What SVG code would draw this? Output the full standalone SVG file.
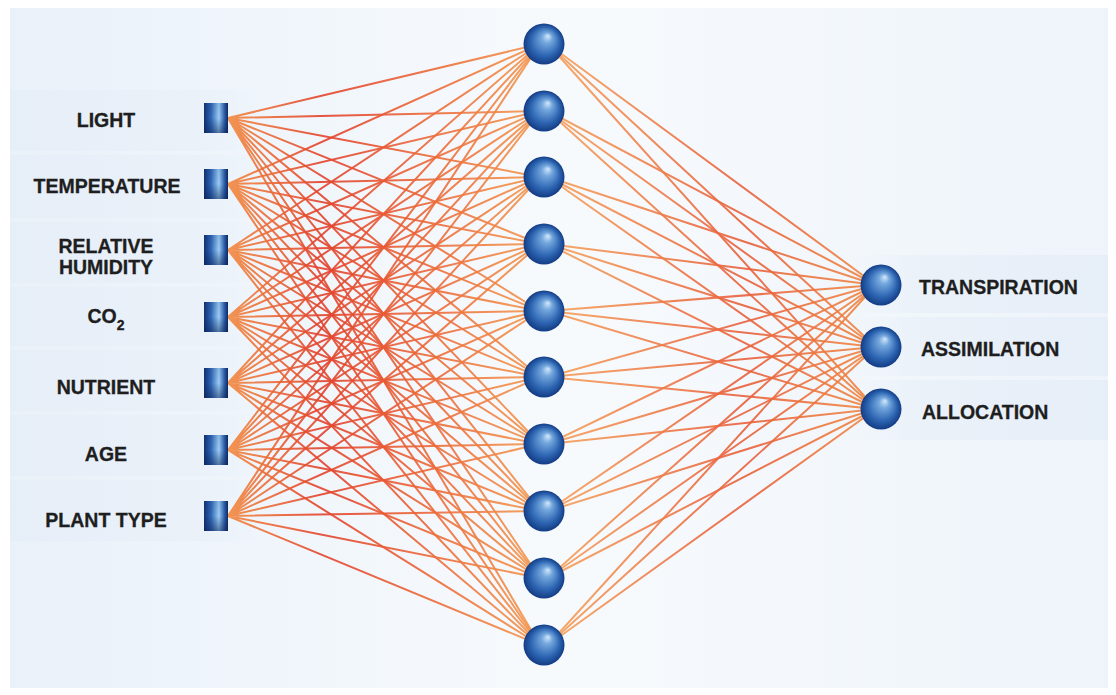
<svg xmlns="http://www.w3.org/2000/svg" width="1116" height="695" viewBox="0 0 1116 695">
<defs>
<linearGradient id="bg" x1="0" y1="0" x2="1" y2="0">
<stop offset="0" stop-color="#e9f1f9"/><stop offset="0.5" stop-color="#f7fafd"/><stop offset="1" stop-color="#eef4fa"/>
</linearGradient>
<linearGradient id="bandL" x1="0" y1="0" x2="1" y2="0">
<stop offset="0" stop-color="#e6eef8"/><stop offset="0.75" stop-color="#eaf1f9"/><stop offset="1" stop-color="#eaf1f9" stop-opacity="0"/>
</linearGradient>
<linearGradient id="bandR" x1="0" y1="0" x2="1" y2="0">
<stop offset="0" stop-color="#eef4fa" stop-opacity="0"/><stop offset="0.3" stop-color="#eaf1f9"/><stop offset="1" stop-color="#e6eef8"/>
</linearGradient>
<linearGradient id="lin1" x1="0" y1="0" x2="1" y2="0">
<stop offset="0" stop-color="#f28a40"/><stop offset="0.3" stop-color="#e3432d"/><stop offset="0.65" stop-color="#ec6a3a"/><stop offset="1" stop-color="#f49a50"/>
</linearGradient>
<linearGradient id="lin2" x1="0" y1="0" x2="1" y2="0">
<stop offset="0" stop-color="#f5a45e"/><stop offset="0.6" stop-color="#e9603c"/><stop offset="1" stop-color="#f08a44"/>
</linearGradient>
<linearGradient id="sq" x1="0" y1="0" x2="1" y2="0">
<stop offset="0" stop-color="#113172"/><stop offset="0.3" stop-color="#3068b8"/><stop offset="0.62" stop-color="#9ccdf4"/><stop offset="0.85" stop-color="#2e60ae"/><stop offset="1" stop-color="#0d285e"/>
</linearGradient>
<linearGradient id="sqshade" x1="0" y1="0" x2="0" y2="1">
<stop offset="0" stop-color="#0a1f50" stop-opacity="0.1"/><stop offset="0.5" stop-color="#0a1f50" stop-opacity="0"/><stop offset="1" stop-color="#0a1f50" stop-opacity="0.5"/>
</linearGradient>
<radialGradient id="sph" cx="0.5" cy="0.5" r="0.5" fx="0.6" fy="0.3">
<stop offset="0" stop-color="#d4e9fb"/><stop offset="0.25" stop-color="#75a8de"/><stop offset="0.7" stop-color="#2d65b2"/><stop offset="1" stop-color="#133c84"/>
</radialGradient>
<style>
.t{font-family:"Liberation Sans",Arial,sans-serif;font-weight:bold;font-size:19.5px;fill:#1e1e1e;stroke:#1e1e1e;stroke-width:0.3}
.tc{text-anchor:middle}
.c1{stroke:url(#lin1);stroke-width:2;fill:none;stroke-opacity:0.9}
.c2{stroke:url(#lin2);stroke-width:2;fill:none;stroke-opacity:0.9}
.sq{fill:url(#sq)}
.sqs{fill:url(#sqshade)}
.sp{fill:url(#sph)}
.band{fill:url(#bandL)}
.bandr{fill:url(#bandR)}
</style>
</defs>
<rect width="1116" height="695" fill="#ffffff"/>
<rect x="10" y="8" width="1098" height="680" fill="url(#bg)"/>
<g id="background-bands">
<rect class="band" x="10" y="90" width="250" height="61"/>
<rect class="band" x="10" y="155" width="250" height="63"/>
<rect class="band" x="10" y="222" width="250" height="61"/>
<rect class="band" x="10" y="287" width="250" height="59"/>
<rect class="band" x="10" y="350" width="250" height="61"/>
<rect class="band" x="10" y="415" width="250" height="61"/>
<rect class="band" x="10" y="480" width="250" height="61"/>
<rect class="bandr" x="840" y="255" width="268" height="58"/>
<rect class="bandr" x="840" y="317" width="268" height="59"/>
<rect class="bandr" x="840" y="380" width="268" height="60"/>
</g>
<g id="connectors">
<path class="c1" d="M228 118L540 44M228 118L540 111M228 118L540 177M228 118L540 244M228 118L540 311M228 118L540 377M228 118L540 444M228 118L540 511M228 118L540 578M228 118L540 645"/>
<path class="c1" d="M228 184L540 44M228 184L540 111M228 184L540 177M228 184L540 244M228 184L540 311M228 184L540 377M228 184L540 444M228 184L540 511M228 184L540 578M228 184L540 645"/>
<path class="c1" d="M228 250L540 44M228 250L540 111M228 250L540 177M228 250L540 244M228 250L540 311M228 250L540 377M228 250L540 444M228 250L540 511M228 250L540 578M228 250L540 645"/>
<path class="c1" d="M228 317L540 44M228 317L540 111M228 317L540 177M228 317L540 244M228 317L540 311M228 317L540 377M228 317L540 444M228 317L540 511M228 317L540 578M228 317L540 645"/>
<path class="c1" d="M228 383L540 44M228 383L540 111M228 383L540 177M228 383L540 244M228 383L540 311M228 383L540 377M228 383L540 444M228 383L540 511M228 383L540 578M228 383L540 645"/>
<path class="c1" d="M228 450L540 44M228 450L540 111M228 450L540 177M228 450L540 244M228 450L540 311M228 450L540 377M228 450L540 444M228 450L540 511M228 450L540 578M228 450L540 645"/>
<path class="c1" d="M228 516L540 44M228 516L540 111M228 516L540 177M228 516L540 244M228 516L540 311M228 516L540 377M228 516L540 444M228 516L540 511M228 516L540 578M228 516L540 645"/>
<path class="c2" d="M548 44L876 285M548 111L876 285M548 177L876 285M548 244L876 285M548 311L876 285M548 377L876 285M548 444L876 285M548 511L876 285M548 578L876 285M548 645L876 285"/>
<path class="c2" d="M548 44L876 347M548 111L876 347M548 177L876 347M548 244L876 347M548 311L876 347M548 377L876 347M548 444L876 347M548 511L876 347M548 578L876 347M548 645L876 347"/>
<path class="c2" d="M548 44L876 409M548 111L876 409M548 177L876 409M548 244L876 409M548 311L876 409M548 377L876 409M548 444L876 409M548 511L876 409M548 578L876 409M548 645L876 409"/>
</g>
<g id="in-light"><text class="t tc" x="106" y="127">LIGHT</text><rect class="sq" x="204" y="103" width="24" height="30"/><rect class="sqs" x="204" y="103" width="24" height="30"/></g>
<g id="in-temperature"><text class="t tc" x="107" y="193">TEMPERATURE</text><rect class="sq" x="204" y="169" width="24" height="30"/><rect class="sqs" x="204" y="169" width="24" height="30"/></g>
<g id="in-humidity"><text class="t tc" x="106" y="253" font-size="18">RELATIVE</text><text class="t tc" x="106" y="274" font-size="18">HUMIDITY</text><rect class="sq" x="204" y="235" width="24" height="30"/><rect class="sqs" x="204" y="235" width="24" height="30"/></g>
<g id="in-co2"><text class="t tc" x="106" y="323">CO<tspan dy="7" font-size="14">2</tspan></text><rect class="sq" x="204" y="302" width="24" height="30"/><rect class="sqs" x="204" y="302" width="24" height="30"/></g>
<g id="in-nutrient"><text class="t tc" x="106" y="394">NUTRIENT</text><rect class="sq" x="204" y="368" width="24" height="30"/><rect class="sqs" x="204" y="368" width="24" height="30"/></g>
<g id="in-age"><text class="t tc" x="106" y="461">AGE</text><rect class="sq" x="204" y="435" width="24" height="30"/><rect class="sqs" x="204" y="435" width="24" height="30"/></g>
<g id="in-planttype"><text class="t tc" x="106" y="527">PLANT TYPE</text><rect class="sq" x="204" y="501" width="24" height="30"/><rect class="sqs" x="204" y="501" width="24" height="30"/></g>
<g id="h1"><circle class="sp" cx="544" cy="44" r="20.5"/></g>
<g id="h2"><circle class="sp" cx="544" cy="111" r="20.5"/></g>
<g id="h3"><circle class="sp" cx="544" cy="177" r="20.5"/></g>
<g id="h4"><circle class="sp" cx="544" cy="244" r="20.5"/></g>
<g id="h5"><circle class="sp" cx="544" cy="311" r="20.5"/></g>
<g id="h6"><circle class="sp" cx="544" cy="377" r="20.5"/></g>
<g id="h7"><circle class="sp" cx="544" cy="444" r="20.5"/></g>
<g id="h8"><circle class="sp" cx="544" cy="511" r="20.5"/></g>
<g id="h9"><circle class="sp" cx="544" cy="578" r="20.5"/></g>
<g id="h10"><circle class="sp" cx="544" cy="645" r="20.5"/></g>
<g id="out-transpiration"><circle class="sp" cx="881" cy="285" r="20.5"/><text class="t" x="919" y="294" font-size="20">TRANSPIRATION</text></g>
<g id="out-assimilation"><circle class="sp" cx="881" cy="347" r="20.5"/><text class="t" x="921" y="356">ASSIMILATION</text></g>
<g id="out-allocation"><circle class="sp" cx="881" cy="409" r="20.5"/><text class="t" x="922" y="419">ALLOCATION</text></g>
</svg>
